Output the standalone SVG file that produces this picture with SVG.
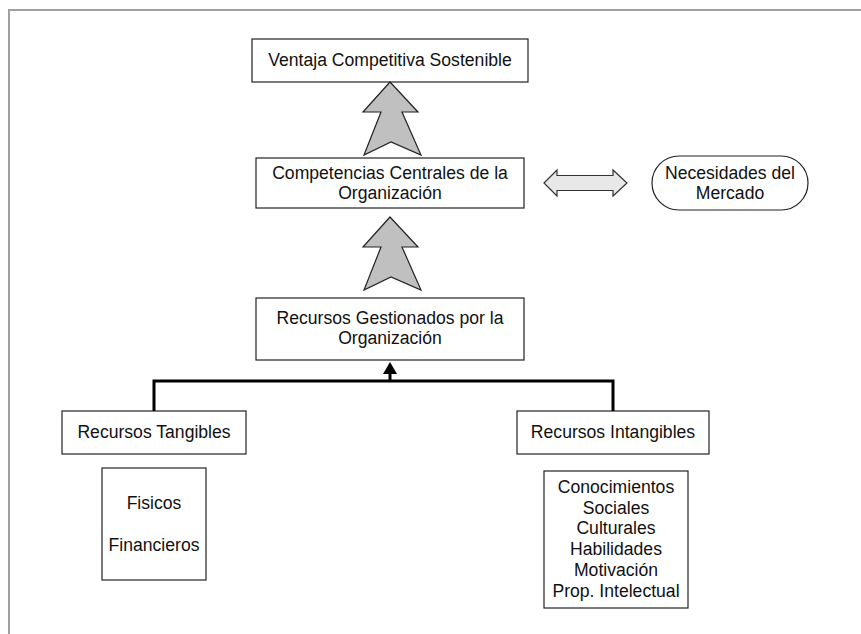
<svg xmlns="http://www.w3.org/2000/svg" width="861" height="634" viewBox="0 0 861 634">
<style>
.box{fill:#fff;stroke:#222;stroke-width:1.2}
.t{font-family:"Liberation Sans",Arial,sans-serif;font-size:17.6px;fill:#111;text-anchor:middle}
.up{fill:#c0c0c0;stroke:#222;stroke-width:1.2;stroke-linejoin:miter}
.conn{fill:none;stroke:#000;stroke-width:3}
</style>
<rect width="861" height="634" fill="#fff"/>
<path d="M9 634 V10 H861" fill="none" stroke="#a0a0a0" stroke-width="2"/>
<g id="ventaja">
<rect class="box" x="252" y="39" width="276" height="43"/>
<text class="t" x="390" y="66">Ventaja Competitiva Sostenible</text>
</g>
<g id="competencias">
<rect class="box" x="256" y="158" width="268" height="50"/>
<text class="t" x="390" y="179">Competencias Centrales de la</text>
<text class="t" x="390" y="199">Organización</text>
</g>
<g id="necesidades">
<rect class="box" x="652" y="156" width="156" height="54" rx="27" ry="27"/>
<text class="t" x="730" y="179">Necesidades del</text>
<text class="t" x="730" y="199">Mercado</text>
</g>
<g id="gestionados">
<rect class="box" x="256" y="298" width="268" height="62"/>
<text class="t" x="390" y="324">Recursos Gestionados por la</text>
<text class="t" x="390" y="344">Organización</text>
</g>
<g id="tangibles">
<rect class="box" x="62" y="411" width="184" height="43"/>
<text class="t" x="154" y="438">Recursos Tangibles</text>
</g>
<g id="tangibles-list">
<rect class="box" x="102" y="468" width="104" height="112"/>
<text class="t" x="154" y="509">Fisicos</text>
<text class="t" x="154" y="551">Financieros</text>
</g>
<g id="intangibles">
<rect class="box" x="517" y="411" width="192" height="43"/>
<text class="t" x="613" y="438">Recursos Intangibles</text>
</g>
<g id="intangibles-list">
<rect class="box" x="544" y="471" width="144" height="137"/>
<text class="t" x="616" y="493">Conocimientos</text>
<text class="t" x="616" y="514">Sociales</text>
<text class="t" x="616" y="534">Culturales</text>
<text class="t" x="616" y="555">Habilidades</text>
<text class="t" x="616" y="576">Motivación</text>
<text class="t" x="616" y="597">Prop. Intelectual</text>
</g>
<g id="connectors">
<polygon class="up" points="390,82 418,112 402,112 421,155 391,142 364,155 381,112 363,112"/>
<polygon class="up" points="390,217 418,247 402,247 421,290 391,277 364,290 381,247 363,247"/>
<polygon points="544,183 557,170 557,175.5 613,175.5 613,170 627,183 613,196 613,190.5 557,190.5 557,196" fill="#e8e8e8" stroke="#333" stroke-width="1.2"/>
<path class="conn" d="M154 411 V381 H613 V411"/>
<path class="conn" d="M390 381 V372"/>
<polygon points="390,362 383,374 397,374" fill="#000"/>
</g>
</svg>
